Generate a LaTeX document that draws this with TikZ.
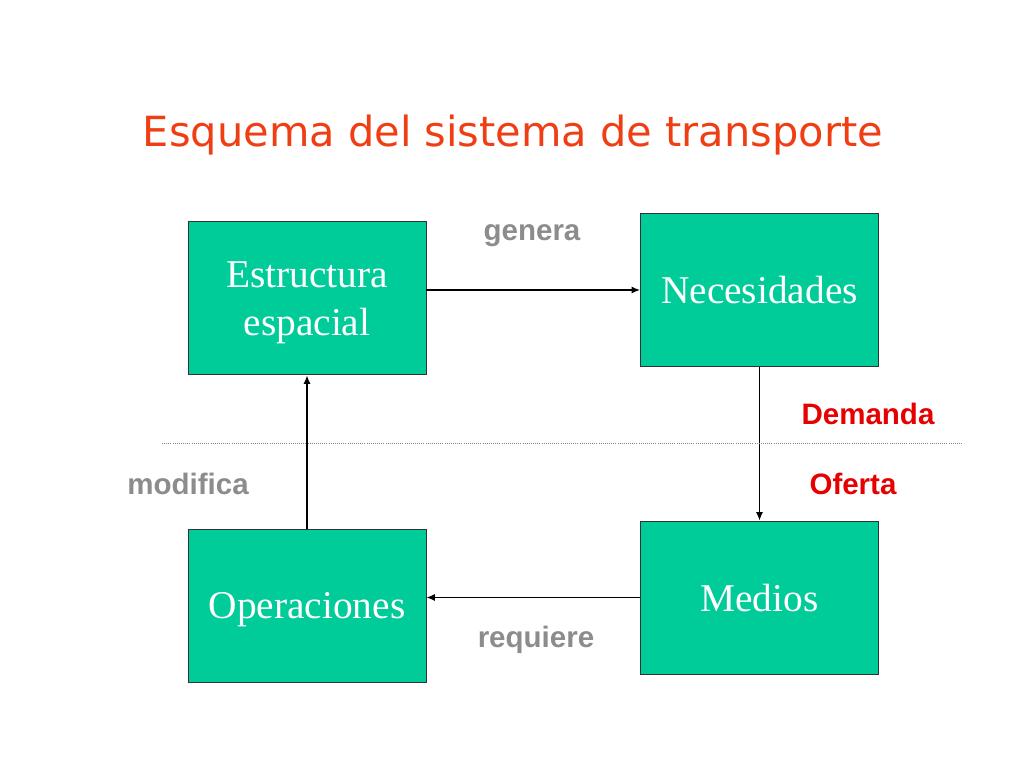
\documentclass[tikz,border=0pt]{standalone}
\usepackage{fontspec}
\setmainfont{Liberation Serif}
\newfontfamily\labelfont{Liberation Sans}
\newfontfamily\titlefont{DejaVu Sans}
\usepackage{tikz}
\usetikzlibrary{arrows.meta}
\usetikzlibrary{positioning}
\definecolor{boxgreen}{RGB}{0,204,153}
\definecolor{titlered}{RGB}{240,62,20}
\definecolor{labelgray}{RGB}{140,140,140}
\definecolor{labelred}{RGB}{230,0,0}
\tikzset{block/.style = {draw=black!80, line width=0.7pt, fill=boxgreen, text=white,
                         minimum width=5.95cm, minimum height=3.825cm, align=center,
                         text depth=-2pt, font=\fontsize{28}{34}\selectfont}}
\tikzset{flow/.style = {-{Latex[length=6pt, width=5pt]}, line width=0.9pt}}
\tikzset{verb/.style = {text=labelgray, font=\labelfont\bfseries\fontsize{21}{24}\selectfont}}
\tikzset{side/.style = {text=labelred, font=\labelfont\bfseries\fontsize{21}{24}\selectfont}}

\begin{document}
\begin{tikzpicture}
      \useasboundingbox (0, 0) rectangle (25.6, 19.2);
      \node [text=titlered] (title) at (12.825, 15.825)
            {\resizebox{18.5cm}{!}{\titlefont Esquema del sistema de transporte}};

      \node [block] (estructura) at (7.675, 11.7375) {Estructura\\espacial};
      \node [block] (necesidades) at (18.9875, 11.95) {Necesidades};
      \node [block] (operaciones) at (7.675, 4.0625) {Operaciones};
      \node [block] (medios) at (18.9875, 4.2625) {Medios};

      \draw [flow] (estructura.east |- necesidades.west) -- (necesidades.west);
      \draw [flow] (necesidades) -- (medios);
      \draw [flow] (medios.west) -- (operaciones.east |- medios.west);
      \draw [flow] (operaciones) -- (estructura);

      \coordinate (limitL) at (4.05, 8.125);
      \coordinate (limitR) at (24.075, 8.125);
      \draw [densely dotted, gray, line width=0.5pt] (limitL) -- (limitR);

      \node [verb] (genera) at (13.3, 13.32) {genera};
      \node [verb] (modifica) at (4.7, 7.1) {modifica};
      \node [verb] (requiere) at (13.4, 3.2) {requiere};
      \node [side] (demanda) at (21.7, 8.85) {Demanda};
      \node [side] (oferta) at (21.325, 7.1) {Oferta};
\end{tikzpicture}
\end{document}
